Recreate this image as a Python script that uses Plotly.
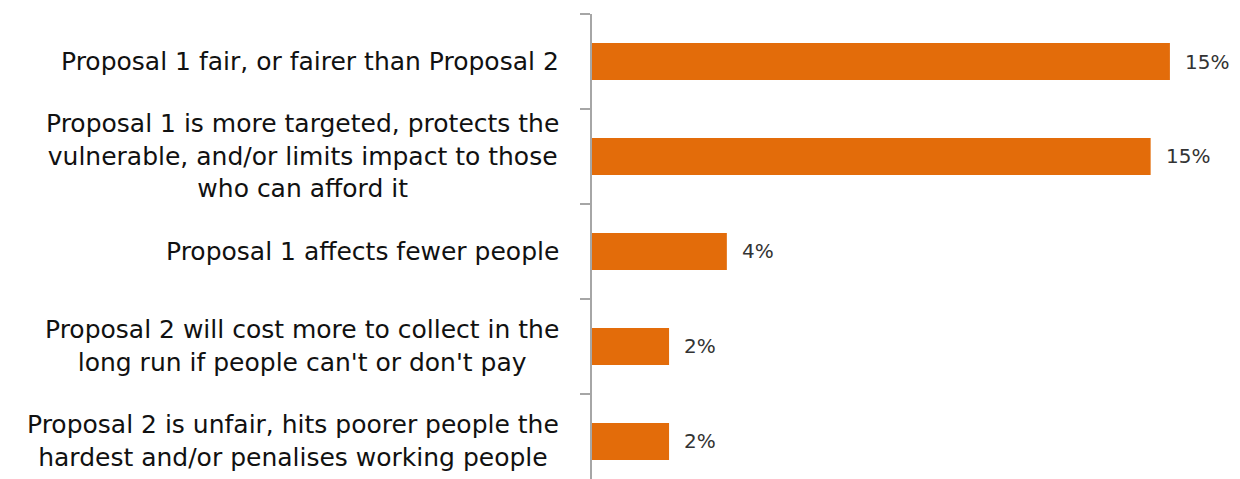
import plotly.graph_objects as go

categories = [
    "Proposal 1 fair, or fairer than Proposal 2",
    "Proposal 1 is more targeted, protects the<br>vulnerable, and/or limits impact to those<br>who can afford it",
    "Proposal 1 affects fewer people",
    "Proposal 2 will cost more to collect in the<br>long run if people can't or don't pay",
    "Proposal 2 is unfair, hits poorer people the<br>hardest and/or penalises working people",
]
values = [15.0, 14.5, 3.5, 2.0, 2.0]
value_labels = ["15%", "15%", "4%", "2%", "2%"]

ORANGE = "#E36C0A"
AXIS = "#a6a6a6"
FONT = "DejaVu Sans"

fig = go.Figure()
fig.add_trace(go.Bar(
    x=values, y=categories, orientation="h",
    marker=dict(color=ORANGE, line=dict(width=0)),
    width=0.39, hoverinfo="skip",
))

annotations = []
for c, v, t in zip(categories, values, value_labels):
    annotations.append(dict(
        x=v, y=c, xref="x", yref="y", text=t, showarrow=False,
        xanchor="left", xshift=13, font=dict(family=FONT, size=20, color="#333333"),
    ))
    annotations.append(dict(
        x=0, y=c, xref="paper", yref="y", text=c, showarrow=False,
        xanchor="right", xshift=-31, align="center",
        font=dict(family=FONT, size=25, color="#111111"),
    ))

fig.update_layout(
    width=1224, height=471,
    margin=dict(l=584, r=12, t=6, b=0, autoexpand=False),
    plot_bgcolor="white", paper_bgcolor="white",
    showlegend=False,
    annotations=annotations,
)
fig.update_xaxes(range=[0, 16.3], visible=False, showgrid=False, zeroline=False)
fig.update_yaxes(
    type="category", categoryorder="array", categoryarray=categories,
    range=[4.395, -0.5],
    showticklabels=False, tickson="boundaries",
    ticks="outside", ticklen=10, tickcolor=AXIS, tickwidth=1.5,
    showline=True, linecolor=AXIS, linewidth=1.5,
    showgrid=False, zeroline=False,
)

fig.write_html("out.html")
